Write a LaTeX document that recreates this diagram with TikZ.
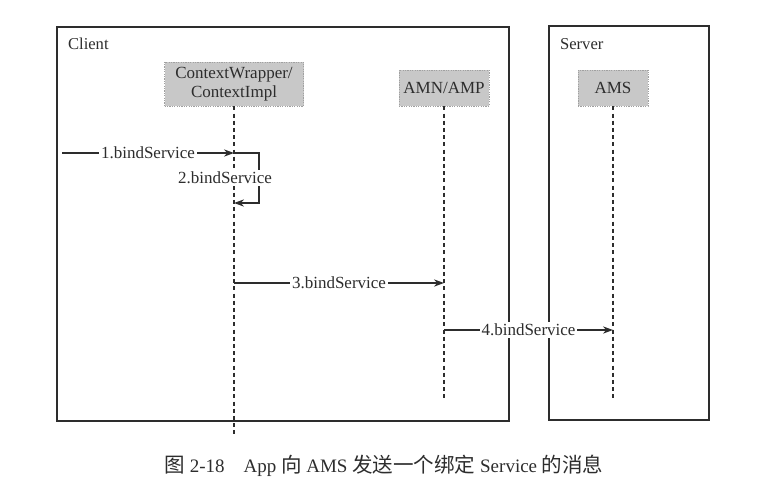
\documentclass[tikz,border=0pt]{standalone}
\usepackage{fontspec}
\setmainfont{Liberation Serif}
\newfontfamily\cjk[Scale=1.08]{Noto Sans CJK SC}
\newcommand\zh[1]{{\cjk #1}}
\usetikzlibrary{arrows.meta,positioning,calc}
\definecolor{Xink}{RGB}{45,45,45}
\definecolor{Xhead}{RGB}{200,200,200}
\tikzset{
  frame/.style={draw=Xink, line width=0.7pt},
  headbox/.style={fill=Xhead, draw=Xhead!80!black, dash pattern=on 0.6pt off 0.6pt, line width=0.3pt, align=center, inner sep=0pt, text=Xink, font=\fontsize{8.5}{9.5}\selectfont},
  lifeline/.style={draw=Xink, line width=0.6pt, dash pattern=on 2pt off 1.6pt},
  msg/.style={-{Stealth[length=5pt,width=3.6pt]}, draw=Xink, line width=0.6pt},
  msglabel/.style={fill=white, inner sep=1pt, text=Xink, font=\fontsize{8.5}{10}\selectfont}
}

\begin{document}
\begin{tikzpicture}[x=0.5pt,y=-0.5pt]
  \useasboundingbox (0,0) rectangle (776,489);
  % client and server frames
  \draw[frame] (57,27) rectangle (509,421);
  \draw[frame] (549,26) rectangle (709,420);
  \node[anchor=base west, text=Xink, font=\fontsize{8.3}{10}\selectfont] (client) at (61,49) {Client};
  \node[anchor=base west, text=Xink, font=\fontsize{8.3}{10}\selectfont] (server) at (553,49) {Server};
  % lifeline heads
  \node[headbox, minimum width=69.5pt, minimum height=22pt] (ctx) at (234,84) {ContextWrapper/\\ContextImpl};
  \node[headbox, minimum width=45pt, minimum height=18pt] (amn) at (444,88) {AMN/AMP};
  \node[headbox, minimum width=35pt, minimum height=18pt] (ams) at (613,88) {AMS};
  % lifelines
  \coordinate (ctx end) at (ctx.south |- 0,435);
  \coordinate (amn end) at (amn.south |- 0,399);
  \coordinate (ams end) at (ams.south |- 0,399);
  \draw[lifeline] (ctx.south) -- (ctx end);
  \draw[lifeline] (amn.south) -- (amn end);
  \draw[lifeline] (ams.south) -- (ams end);
  % messages
  \coordinate (in) at (62,153);
  \coordinate (m1) at (ctx.south |- 0,153);
  \coordinate (m2) at (ctx.south |- 0,203);
  \coordinate (m3a) at (ctx.south |- 0,283);
  \coordinate (m3b) at (amn.south |- 0,283);
  \coordinate (m4a) at (amn.south |- 0,330);
  \coordinate (m4b) at (ams.south |- 0,330);
  \draw[msg] (in) -- node[msglabel] (l1) {1.bindService} (m1);
  \draw[msg] (m1) -- ++(25,0) |- (m2);
  \node[msglabel] (l2) at (225,178) {2.bindService};
  \draw[msg] (m3a) -- node[msglabel] (l3) {3.bindService} (m3b);
  \draw[msg] (m4a) -- node[msglabel] (l4) {4.bindService} (m4b);
  % caption
  \node[text=Xink, font=\fontsize{9.5}{11}\selectfont] (cap) at (384,466)
    {\zh{图} 2-18\hspace{1em}App \zh{向} AMS \zh{发送一个绑定} Service \zh{的消息}};
\end{tikzpicture}
\end{document}
